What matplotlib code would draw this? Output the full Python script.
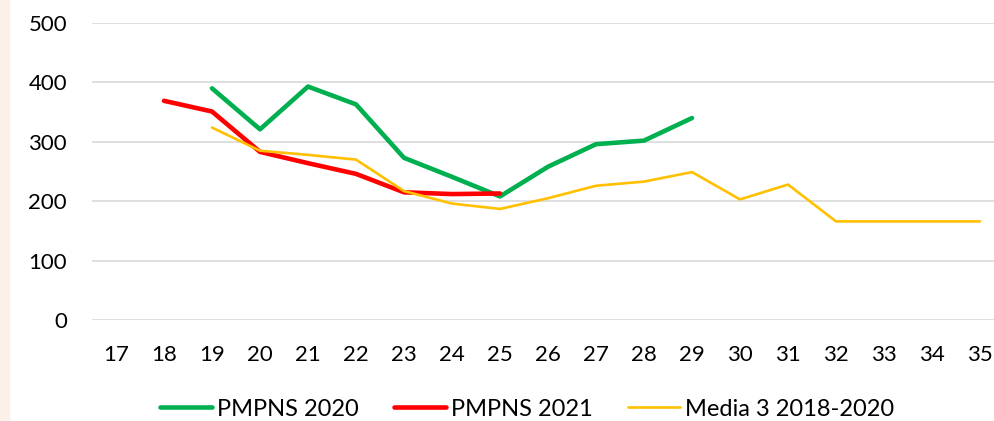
import matplotlib.pyplot as plt
from matplotlib.patches import Rectangle

# categories (week numbers)
weeks = list(range(17, 36))

# PMPNS 2020 - weeks 19..29
pmpns2020_x = list(range(19, 30))
pmpns2020 = [390, 321, 393, 363, 273, 241, 208, 258, 296, 302, 340]

# PMPNS 2021 - weeks 18..25
pmpns2021_x = list(range(18, 26))
pmpns2021 = [369, 351, 283, 264, 246, 215, 212, 213]

# Media 3 2018-2020 - weeks 19..35
media_x = list(range(19, 36))
media = [324, 285, 278, 270, 217, 196, 187, 205, 226, 233, 249, 203, 228, 166, 166, 166, 166]

yticks = [0, 100, 200, 300, 400, 500]

plt.rcParams['font.family'] = ['Lato', 'DejaVu Sans']

fig = plt.figure(figsize=(9.94, 4.21), dpi=100)
fig.patches.append(Rectangle((0, 0), 9 / 994, 1, transform=fig.transFigure,
                             color='#FCF1E8', zorder=0))

ax = fig.add_axes([92 / 994, 1 - 320 / 421, 912 / 994, 297 / 421])

ax.plot(pmpns2020_x, pmpns2020, color='#00B050', lw=3.3, label='PMPNS 2020',
        solid_capstyle='round', zorder=3)
ax.plot(pmpns2021_x, pmpns2021, color='#FF0000', lw=3.3, label='PMPNS 2021',
        solid_capstyle='round', zorder=4)
ax.plot(media_x, media, color='#FFC000', lw=1.9, label='Media 3 2018-2020',
        solid_capstyle='round', zorder=5)

ax.set_xlim(16.5, 35.5)
ax.set_ylim(0, 500)
ax.set_xticks(weeks)
ax.set_yticks(yticks)
ax.tick_params(axis='both', length=0, labelsize=16, colors='#000000')
ax.tick_params(axis='x', pad=18)
ax.tick_params(axis='y', pad=18)
ax.grid(axis='y', color='#D9D9D9', lw=1.2)
ax.set_axisbelow(True)
for s in ax.spines.values():
    s.set_visible(False)

fig.legend(loc='center', bbox_to_anchor=(527 / 994, 0.028), ncol=3, frameon=False,
           fontsize=17, handlelength=2.2, handletextpad=0.2, columnspacing=1.5)

fig.savefig('out.png', dpi=100)
